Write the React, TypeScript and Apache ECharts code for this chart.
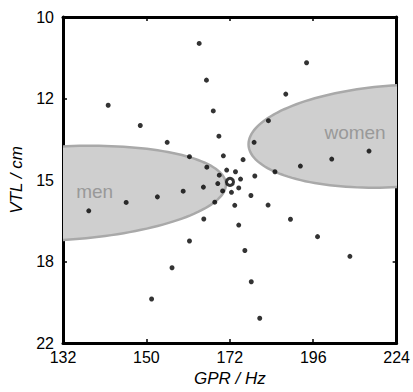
import React, { useEffect, useRef } from "react";
import * as echarts from "echarts";

// Axis ranges (geometric scales) and tick labels
const GPR_RANGE = [132, 224];
const VTL_RANGE = [10, 22];
const GPR_TICK_LABELS = ["132", "150", "172", "196", "224"];
const VTL_TICK_LABELS = ["10", "12", "15", "18", "22"];

// Scaled speakers (GPR in Hz, VTL in cm)
const DOT_GPR = [
  163.8, 165.7, 141.8, 149.2, 155.7, 161.3, 165.8, 164.9, 159.7, 153.3,
  194.2, 187.9, 167.5, 182.8, 169.0, 178.7, 170.2, 175.6, 214.4, 202.1,
  192.3, 184.7, 171.1, 173.5, 169.1, 174.9, 178.9, 168.7, 174.4, 170.0,
  172.4, 177.8, 137.5, 145.9, 165.0, 161.3, 156.9, 151.9, 167.9, 173.3,
  182.7, 189.3, 174.4, 197.6, 208.0, 176.1, 177.9, 180.3,
];
const DOT_VTL = [
  10.66, 11.65, 12.38, 13.0, 13.54, 14.02, 14.38, 15.09, 15.24, 15.45,
  11.17, 12.05, 12.55, 12.85, 13.34, 13.54, 13.99, 14.12, 13.83, 14.1,
  14.34, 14.54, 14.48, 14.54, 14.66, 14.8, 14.69, 14.96, 15.12, 15.23,
  15.28, 15.4, 15.98, 15.66, 16.3, 17.19, 18.34, 19.78, 15.65, 15.77,
  15.76, 16.31, 16.54, 17.01, 17.84, 17.59, 18.97, 20.72,
];
// Reference speaker
const REF_GPR = [172];
const REF_VTL = [14.9];

// Speaker-group ellipses (in log units)
const ELLIPSE_NAMES = ["men", "women"];
const ELLIPSE_GPR = [131.4, 224.3];
const ELLIPSE_VTL = [15.32, 13.34];
const ELLIPSE_GPR_RATIO = [1.3006, 1.2663];
const ELLIPSE_VTL_RATIO = [1.1198, 1.1311];
const ELLIPSE_SHEAR = [-0.082, -0.083];
const LABEL_GPR = [138.8, 209.7];
const LABEL_VTL = [15.25, 13.21];

const STEPS = GPR_TICK_LABELS.length - 1;
const toU = (g: number) =>
  (STEPS * Math.log(g / GPR_RANGE[0])) / Math.log(GPR_RANGE[1] / GPR_RANGE[0]);
const toV = (v: number) =>
  (STEPS * Math.log(v / VTL_RANGE[0])) / Math.log(VTL_RANGE[1] / VTL_RANGE[0]);

const FONT = "'Liberation Sans', Arial, Helvetica, sans-serif";

export default function App() {
  const ref = useRef<HTMLDivElement>(null);
  useEffect(() => {
    if (!ref.current) return;
    const chart = echarts.init(ref.current, undefined, { renderer: "svg" });
    const axisLine = { show: true, onZero: false, lineStyle: { color: "#000", width: 3 } };
    const axisTick = { show: true, inside: true, length: 4, lineStyle: { color: "#000", width: 1.5 } };
    const xBase = { type: "value", min: 0, max: STEPS, interval: 1, splitLine: { show: false }, axisLine, axisTick };
    const yBase = { type: "value", min: 0, max: STEPS, interval: 1, inverse: true, splitLine: { show: false }, axisLine, axisTick };

    const ellipseData = ELLIPSE_NAMES.map((n, i) => [i, toU(ELLIPSE_GPR[i]), toV(ELLIPSE_VTL[i])]);

    chart.setOption({
      animation: false,
      textStyle: { fontFamily: FONT },
      grid: { left: 63, top: 17, width: 335, height: 331, containLabel: false },
      xAxis: [
        {
          ...xBase,
          position: "bottom",
          name: "GPR / Hz",
          nameLocation: "middle",
          nameGap: 27,
          nameTextStyle: { fontStyle: "italic", fontSize: 17, color: "#000", fontFamily: FONT },
          axisLabel: {
            color: "#000",
            fontSize: 16,
            margin: 6,
            fontFamily: FONT,
            formatter: (v: number) => GPR_TICK_LABELS[Math.round(v)],
          },
        },
        { ...xBase, position: "top", axisLabel: { show: false } },
      ],
      yAxis: [
        {
          ...yBase,
          position: "left",
          name: "VTL / cm",
          nameLocation: "middle",
          nameGap: 38,
          nameTextStyle: { fontStyle: "italic", fontSize: 17, color: "#000", fontFamily: FONT },
          axisLabel: {
            color: "#000",
            fontSize: 16,
            margin: 9,
            fontFamily: FONT,
            formatter: (v: number) => VTL_TICK_LABELS[Math.round(v)],
          },
        },
        { ...yBase, position: "right", axisLabel: { show: false } },
      ],
      series: [
        {
          type: "custom",
          clip: true,
          xAxisIndex: 0,
          yAxisIndex: 0,
          z: 1,
          data: ellipseData,
          renderItem: (params: any, api: any) => {
            const i = api.value(0);
            const lg = Math.log(ELLIPSE_GPR[i]);
            const lv = Math.log(ELLIPSE_VTL[i]);
            const rg = Math.log(ELLIPSE_GPR_RATIO[i]);
            const rv = Math.log(ELLIPSE_VTL_RATIO[i]);
            const sh = ELLIPSE_SHEAR[i];
            const pts: number[][] = [];
            const n = 160;
            for (let k = 0; k < n; k++) {
              const t = (2 * Math.PI * k) / n;
              const g = Math.exp(lg + rg * Math.cos(t));
              const v = Math.exp(lv + sh * rg * Math.cos(t) + rv * Math.sin(t));
              pts.push(api.coord([toU(g), toV(v)]));
            }
            const lp = api.coord([toU(LABEL_GPR[i]), toV(LABEL_VTL[i])]);
            return {
              type: "group",
              children: [
                {
                  type: "polygon",
                  shape: { points: pts },
                  style: { fill: "#cfcfcf", stroke: "#a9a9a9", lineWidth: 2.5 },
                },
                {
                  type: "text",
                  style: {
                    text: ELLIPSE_NAMES[i],
                    x: lp[0],
                    y: lp[1],
                    fill: "#999999",
                    font: `19px ${FONT}`,
                    align: "center",
                    verticalAlign: "middle",
                  },
                },
              ],
            };
          },
        },
        {
          type: "scatter",
          z: 3,
          symbol: "circle",
          symbolSize: 5,
          itemStyle: { color: "#000" },
          data: DOT_GPR.map((g, i) => [toU(g), toV(DOT_VTL[i])]),
        },
        {
          type: "scatter",
          z: 4,
          symbol: "circle",
          symbolSize: 7,
          itemStyle: { color: "#fff", borderColor: "#000", borderWidth: 3 },
          data: REF_GPR.map((g, i) => [toU(g), toV(REF_VTL[i])]),
        },
      ],
    });
    return () => chart.dispose();
  }, []);
  return (
    <div
      ref={ref}
      style={{ position: "fixed", left: 0, top: 0, width: 413, height: 392, background: "#fff" }}
    />
  );
}
